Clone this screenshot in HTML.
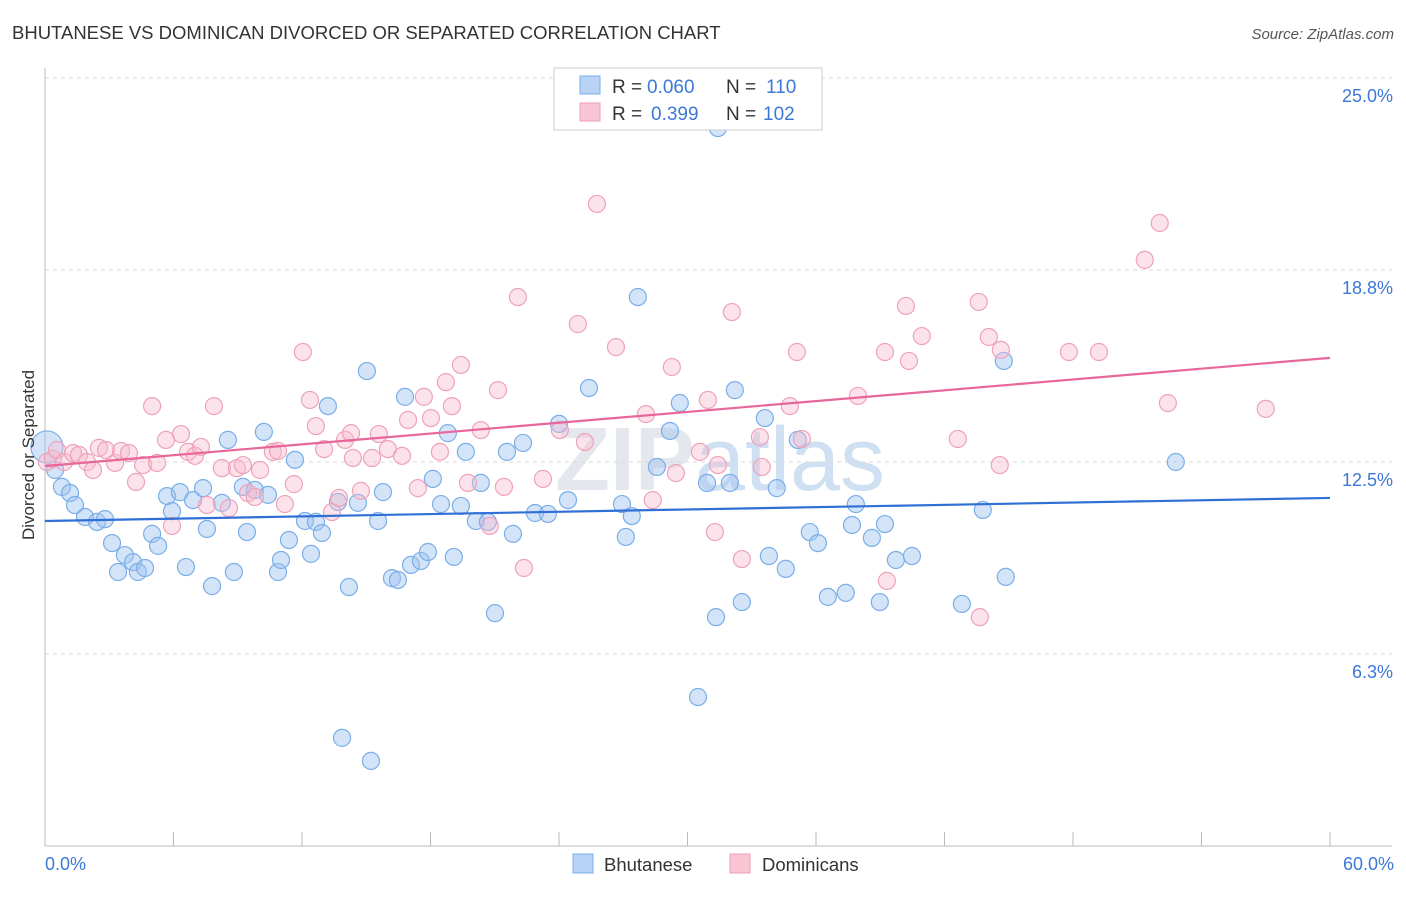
<!DOCTYPE html>
<html><head><meta charset="utf-8"><style>
body{margin:0;background:#fff;font-family:"Liberation Sans",sans-serif;}
svg text{font-family:"Liberation Sans",sans-serif;}
</style></head><body>
<svg id="chart" width="1406" height="892" xmlns="http://www.w3.org/2000/svg">
<text x="12" y="39" font-size="18.5" fill="#333">BHUTANESE VS DOMINICAN DIVORCED OR SEPARATED CORRELATION CHART</text>
<text x="1394" y="39" font-size="15" fill="#555" font-style="italic" text-anchor="end">Source: ZipAtlas.com</text>
<text x="720" y="490" font-size="90" fill="#e4e8ee" text-anchor="middle" font-weight="bold">ZIP<tspan fill="#cfe0f3" font-weight="normal">atlas</tspan></text>
<g id="grid"></g>
<g id="axes"></g>
<g id="blue"></g>
<g id="pink"></g>
<g id="trends"></g>
<text transform="translate(34,455) rotate(-90)" font-size="17" fill="#333" text-anchor="middle">Divorced or Separated</text>
<text x="45" y="870" font-size="18" fill="#3b78d8">0.0%</text>
<text x="1394" y="870" font-size="18" fill="#3b78d8" text-anchor="end">60.0%</text>
<g>
<rect x="554" y="68" width="268" height="62" fill="#fff" stroke="#ccc"/>
<rect x="580" y="76" width="20" height="18" fill="#b8d3f5" stroke="#7aaee8"/>
<rect x="580" y="103" width="20" height="18" fill="#f9c5d4" stroke="#f0a0b8"/>
<text x="612" y="93" font-size="19" fill="#333">R =</text>
<text x="647" y="93" font-size="19" fill="#3b78d8">0.060</text>
<text x="726" y="93" font-size="19" fill="#333">N =</text>
<text x="766" y="93" font-size="19" fill="#3b78d8">110</text>
<text x="612" y="120" font-size="19" fill="#333">R =</text>
<text x="651" y="120" font-size="19" fill="#3b78d8">0.399</text>
<text x="726" y="120" font-size="19" fill="#333">N =</text>
<text x="763" y="120" font-size="19" fill="#3b78d8">102</text>
</g>
<g>
<rect x="573" y="854" width="20" height="19" fill="#b8d3f5" stroke="#7aaee8"/>
<text x="604" y="871" font-size="18.5" fill="#333">Bhutanese</text>
<rect x="730" y="854" width="20" height="19" fill="#f9c5d4" stroke="#f0a0b8"/>
<text x="762" y="871" font-size="18.5" fill="#333">Dominicans</text>
</g>
</svg>
<script>
const yTicks=[6.25,12.5,18.75,25];
const yTickLabels=["6.3%","12.5%","18.8%","25.0%"];
const blueX=[0.09,0.47,0.79,1.17,1.40,1.87,2.43,2.80,3.13,3.41,3.73,4.11,4.34,4.67,5.00,5.28,5.70,5.93,6.30,6.58,6.91,7.38,7.56,7.80,8.26,8.54,8.82,9.24,9.43,9.80,10.22,10.41,10.88,11.02,11.39,11.67,12.14,12.42,12.65,12.93,13.21,13.68,13.87,14.19,14.61,15.03,15.22,15.55,15.78,16.20,16.48,16.81,17.09,17.55,17.88,18.11,18.49,18.81,19.09,19.42,19.65,20.12,20.35,20.68,21.01,21.57,21.85,22.32,22.88,23.48,24.00,24.42,25.40,26.94,27.12,27.40,27.68,28.57,29.18,29.64,30.49,30.91,31.33,31.42,31.98,32.21,32.54,33.61,33.80,34.17,34.59,35.15,35.71,36.09,36.55,37.39,37.68,37.86,38.61,38.98,39.22,39.73,40.48,42.81,43.79,44.77,44.86,52.80];
const blueY=[12.99,12.24,11.69,11.49,11.10,10.71,10.55,10.64,9.86,8.92,9.47,9.24,8.92,9.05,10.16,9.77,11.39,10.90,11.52,9.08,11.26,11.65,10.32,8.46,11.17,13.22,8.92,11.69,10.22,11.59,13.48,11.43,8.92,9.31,9.96,12.57,10.58,9.51,10.55,10.19,14.32,11.20,3.52,8.43,11.17,15.46,2.77,10.58,11.52,8.72,8.66,14.62,9.15,9.28,9.57,11.95,11.13,13.44,9.41,11.07,12.83,10.58,11.82,10.55,7.58,12.83,10.16,13.12,10.84,10.81,13.74,11.26,14.91,11.13,10.06,10.74,17.87,12.34,13.51,14.42,4.85,11.82,7.45,23.37,11.82,14.84,7.94,13.93,9.44,11.65,9.02,13.22,10.22,9.86,8.11,8.24,10.45,11.13,10.03,7.94,10.48,9.31,9.44,7.88,10.94,15.79,8.76,12.50];
const pinkX=[0.09,0.37,0.56,0.89,1.31,1.59,1.96,2.24,2.52,2.85,3.27,3.55,3.92,4.25,4.58,5.00,5.23,5.65,5.93,6.35,6.68,7.00,7.28,7.56,7.89,8.26,8.59,8.96,9.24,9.48,9.80,10.04,10.64,10.88,11.20,11.62,12.04,12.37,12.65,13.03,13.40,13.73,14.01,14.29,14.38,14.75,15.27,15.59,16.01,16.67,16.95,17.41,17.69,18.02,18.44,18.72,19.00,19.42,19.75,20.35,20.77,21.15,21.43,22.08,22.36,23.25,24.04,24.88,25.21,25.77,26.66,28.06,28.38,29.27,29.46,30.58,30.95,31.28,31.42,32.07,32.54,33.38,33.47,34.78,35.11,35.34,37.96,39.31,39.22,40.20,40.34,40.94,42.62,43.60,44.07,44.58,44.63,43.65,47.81,49.21,51.35,52.05,52.43,57.00];
const pinkY=[12.50,12.60,12.89,12.50,12.79,12.73,12.50,12.24,12.96,12.89,12.47,12.86,12.79,11.85,12.40,14.32,12.47,13.22,10.42,13.41,12.83,12.70,12.99,11.10,14.32,12.30,11.00,12.30,12.40,11.49,11.36,12.24,12.83,12.86,11.13,11.78,16.08,14.52,13.67,12.92,10.87,11.33,13.22,13.44,12.63,11.56,12.63,13.41,12.92,12.70,13.87,11.65,14.62,13.93,12.83,15.10,14.32,15.66,11.82,13.54,10.42,14.84,11.69,17.87,9.05,11.95,13.54,16.99,13.15,20.90,16.24,14.06,11.26,15.59,12.14,12.83,14.52,10.22,12.40,17.38,9.34,13.31,12.34,14.32,16.08,13.25,14.65,8.63,16.08,17.58,15.79,16.60,13.25,17.71,16.57,12.40,16.15,7.45,16.08,16.08,19.08,20.28,14.42,14.23];
const trendX=[0,60];
const blueTrend=[10.58,11.33];
const pinkTrend=[12.37,15.89];
const NS="http://www.w3.org/2000/svg";
const X0=45,X1=1330,Y0=846,PXPER=30.72;
function sx(v){return X0+(X1-X0)*v/60;}
function sy(v){return Y0-v*PXPER;}
function mk(tag,attrs,parent){const e=document.createElementNS(NS,tag);for(const k in attrs)e.setAttribute(k,attrs[k]);parent.appendChild(e);return e;}
const grid=document.getElementById('grid'),axes=document.getElementById('axes');
yTicks.forEach((t,i)=>{
  const l=mk('line',{x1:X0,x2:1392,y1:sy(t),y2:sy(t),stroke:'#d8d8d8','stroke-dasharray':'4,4'},grid);
  
  
  const tx=mk('text',{x:1393,y:sy(t)+24,'font-size':18,fill:'#3b78d8','text-anchor':'end'},grid);
  tx.textContent=yTickLabels[i];
  
  
});
mk('line',{x1:X0,x2:X0,y1:68,y2:Y0,stroke:'#bbb'},axes);
mk('line',{x1:X0,x2:1392,y1:Y0,y2:Y0,stroke:'#bbb'},axes);
for(let i=0;i<=10;i++){const t=mk('line',{x1:sx(i*6),x2:sx(i*6),y1:Y0,y2:Y0-14,stroke:'#bbb'},axes);
  
  }
function pts(xs,ys,g,fill,stroke,name){xs.forEach((x,i)=>{
  const c=mk('circle',{cx:sx(x),cy:sy(ys[i]),r:(name==='bhutanese-point'&&i===0)?16:8.5,fill:fill,stroke:stroke,'stroke-width':1.2},g);
  
  
});}
pts(blueX,blueY,document.getElementById('blue'),'rgba(160,196,240,0.45)','#7aaee8','bhutanese-point');
pts(pinkX,pinkY,document.getElementById('pink'),'rgba(248,185,205,0.4)','#eea2ba','dominicans-point');
const tr=document.getElementById('trends');
const bl=mk('line',{x1:sx(trendX[0]),y1:sy(blueTrend[0]),x2:sx(trendX[1]),y2:sy(blueTrend[1]),stroke:'#2f6fd6','stroke-width':2.2},tr);


const pl=mk('line',{x1:sx(trendX[0]),y1:sy(pinkTrend[0]),x2:sx(trendX[1]),y2:sy(pinkTrend[1]),stroke:'#e8679a','stroke-width':2.2},tr);


</script>
</body></html>
